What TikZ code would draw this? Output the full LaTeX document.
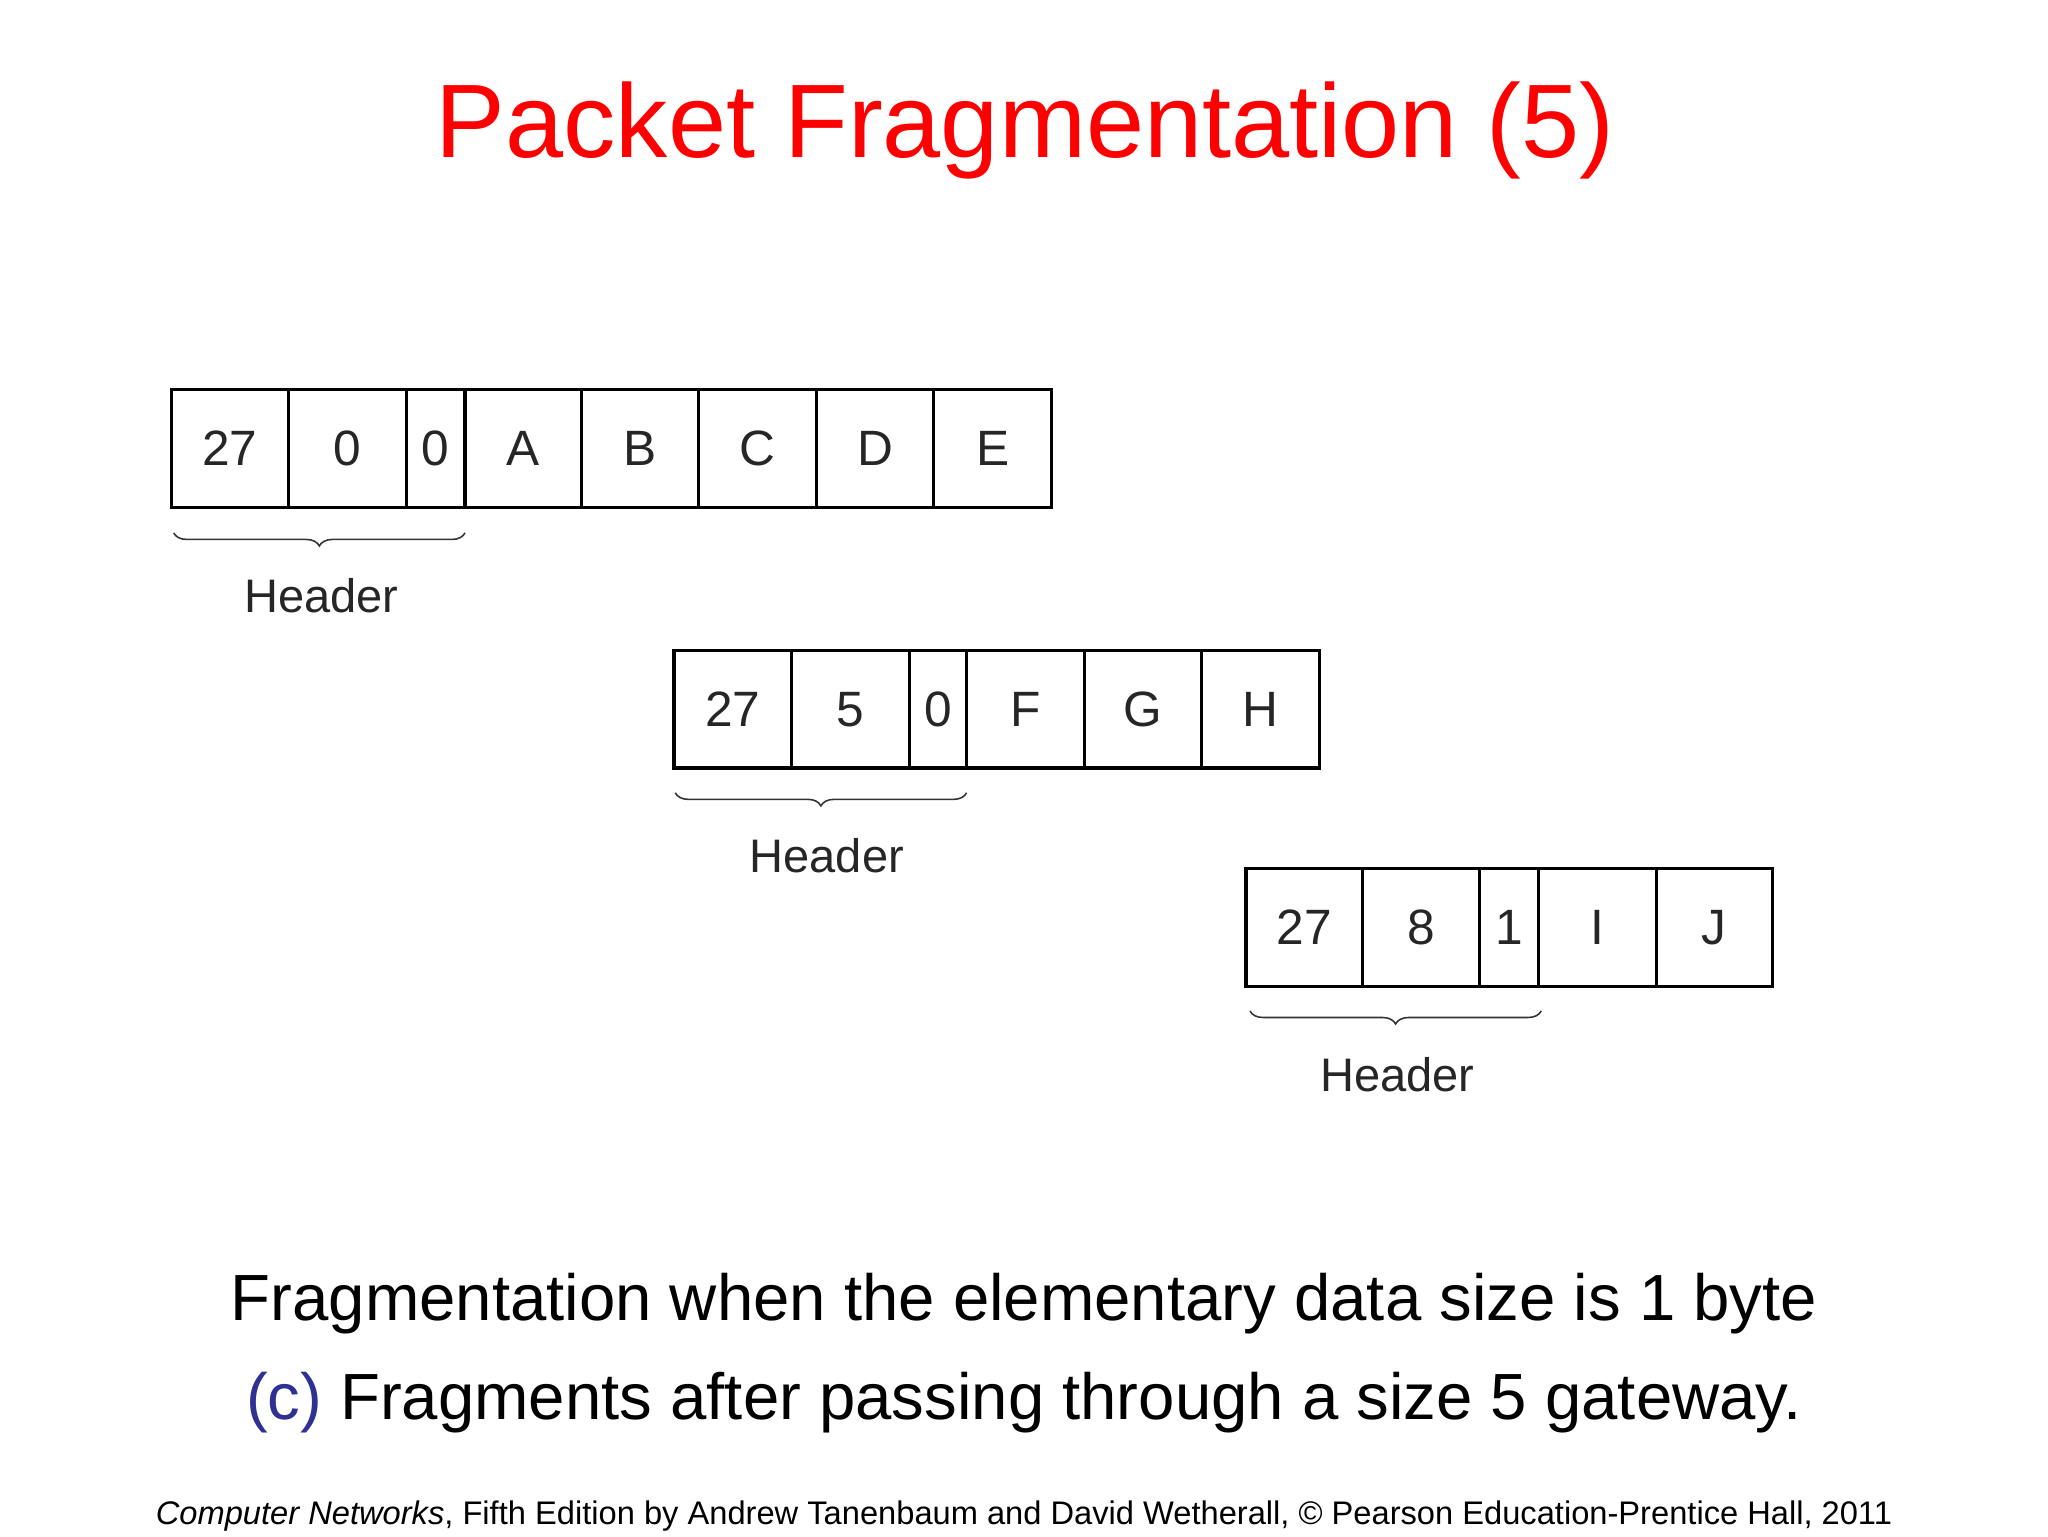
\documentclass[tikz,border=0pt]{standalone}
\usepackage{fontspec}
\setmainfont{Liberation Sans}
\usetikzlibrary{decorations.pathreplacing}
\definecolor{cblue}{RGB}{46,49,146}
\begin{document}
\begin{tikzpicture}[x=1pt,y=-1pt,
  cell/.style={draw,line width=2.4pt,minimum height=90pt,inner sep=0pt,font=\fontsize{38}{40}\selectfont,text=black!85},
  hbrace/.style={decorate,decoration={brace,mirror,amplitude=10pt},line width=1.2pt,black!80},
  hlabel/.style={font=\fontsize{36}{40}\selectfont,text=black!85}]
\useasboundingbox[fill=white] (0,0) rectangle (1568,1176);
\node[text=red,font=\fontsize{80}{90}\selectfont] (title) at (785,100) {Packet Fragmentation (5)};
% row 1
\foreach \a/\b/\t [count=\i] in {131/221/27,221/311/0,311/356/0,356/445/A,445/535/B,535/625/C,625/715/D,715/805/E}
  \node[cell,minimum width=\b-\a] (ra\i) at ({(\a+\b)/2},343.5) {\t};
% row 2
\foreach \a/\b/\t [count=\i] in {516/606/27,606/696/5,696/740/0,740/830/F,830/920/G,920/1010/H}
  \node[cell,minimum width=\b-\a] (rb\i) at ({(\a+\b)/2},543) {\t};
% row 3
\foreach \a/\b/\t [count=\i] in {954/1043/27,1043/1133/8,1133/1178/1,1178/1268/I,1268/1357/J}
  \node[cell,minimum width=\b-\a] (rc\i) at ({(\a+\b)/2},710) {\t};
\coordinate (b1s) at (133,408); \coordinate (b1e) at (356,408);
\draw[hbrace] (b1s) -- (b1e);
\node[hlabel] (h1) at (246,456) {Header};
\coordinate (b2s) at (517,607); \coordinate (b2e) at (740,607);
\draw[hbrace] (b2s) -- (b2e);
\node[hlabel] (h2) at (633,655) {Header};
\coordinate (b3s) at (957,774); \coordinate (b3e) at (1180,774);
\draw[hbrace] (b3s) -- (b3e);
\node[hlabel] (h3) at (1070,823) {Header};
\node[font=\fontsize{50}{60}\selectfont] (cap1) at (784,998) {Fragmentation when the elementary data size is 1 byte};
\node[font=\fontsize{50}{60}\selectfont] (cap2) at (784,1074) {\textcolor{cblue}{(c)} Fragments after passing through a size 5 gateway.};
\node[font=\fontsize{25}{30}\selectfont] (foot) at (784,1161) {\textit{Computer Networks}, Fifth Edition by Andrew Tanenbaum and David Wetherall, © Pearson Education-Prentice Hall, 2011};
\end{tikzpicture}
\end{document}
